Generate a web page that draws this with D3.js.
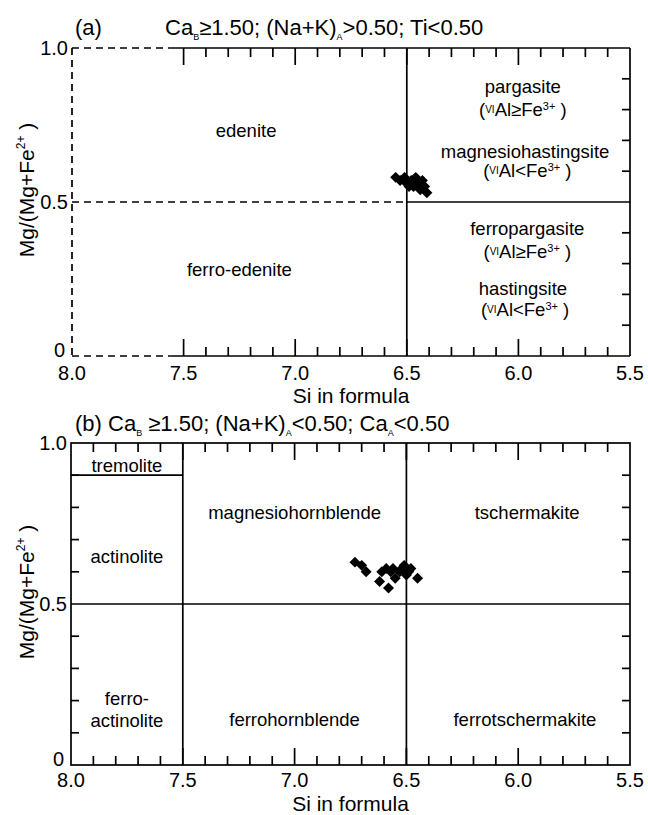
<!DOCTYPE html>
<html>
<head>
<meta charset="utf-8">
<script src="https://cdn.jsdelivr.net/npm/d3@7/dist/d3.min.js"></script>
<style>
  html, body { margin: 0; padding: 0; background: #fff; }
  svg { display: block; }
  text { font-family: "Liberation Sans", Arial, Helvetica, sans-serif; fill: #000; }
</style>
</head>
<body>
<svg id="chart" width="648" height="815"></svg>
<script>
// Amphibole classification diagrams: Si (apfu) vs Mg/(Mg+Fe2+)

// Panel (a) analyses
const siA = [6.55, 6.53, 6.51, 6.50, 6.49, 6.48, 6.47, 6.46, 6.45, 6.44, 6.43, 6.42, 6.41];
const mgA = [0.58, 0.57, 0.58, 0.56, 0.55, 0.57, 0.55, 0.58, 0.56, 0.54, 0.57, 0.55, 0.53];

// Panel (b) analyses
const siB = [6.73, 6.70, 6.68, 6.62, 6.61, 6.59, 6.58, 6.57, 6.56, 6.55, 6.53, 6.52, 6.51, 6.50, 6.49, 6.48, 6.45];
const mgB = [0.63, 0.62, 0.60, 0.57, 0.60, 0.61, 0.55, 0.60, 0.61, 0.58, 0.60, 0.61, 0.62, 0.59, 0.60, 0.61, 0.58];

// Axis tick labels
const xTickLabels = ["8.0", "7.5", "7.0", "6.5", "6.0", "5.5"];
const yTickLabels = ["0", "0.5", "1.0"];

// Field names, panel (a)
const fieldNamesA = ["edenite", "ferro-edenite", "pargasite", "magnesiohastingsite", "ferropargasite", "hastingsite"];
const fieldSiA    = [7.22, 7.25, 5.98, 5.97, 5.96, 5.98];
const fieldMgA    = [0.733, 0.28, 0.875, 0.665, 0.415, 0.218];
// Site-occupancy qualifiers under the pargasite/hastingsite names
const qualRelA    = ["≥", "<", "≥", "<"];
const qualSiA     = [5.98, 5.96, 5.96, 5.97];
const qualMgA     = [0.80, 0.603, 0.34, 0.152];

// Field names, panel (b)
const fieldNamesB = ["tremolite", "actinolite", "ferro-", "actinolite", "magnesiohornblende", "tschermakite", "ferrohornblende", "ferrotschermakite"];
const fieldSiB    = [7.75, 7.75, 7.75, 7.75, 7.0, 5.96, 7.0, 5.97];
const fieldMgB    = [0.93, 0.648, 0.208, 0.138, 0.785, 0.785, 0.14, 0.14];

const svg = d3.select("#chart");
const labelFont = 18.5;

function makeScales(p) {
  const x = d3.scaleLinear().domain([8.0, 5.5]).range([p.left, p.right]);
  const y = d3.scaleLinear().domain([0, 1]).range([p.bottom, p.top]);
  return { x, y };
}

function line(g, x1, y1, x2, y2, dashed) {
  g.append("line")
    .attr("x1", x1).attr("y1", y1).attr("x2", x2).attr("y2", y2)
    .attr("stroke", "#000").attr("stroke-width", 1.7)
    .attr("stroke-dasharray", dashed ? "7,5" : null);
}

// inward ticks along top and bottom borders, longer at every 0.5
function xTicks(g, s, from) {
  const vals = d3.range(Math.round(from * 10), 55, -1).map(v => v / 10);
  vals.forEach(v => {
    if (v === 8.0) return;
    const major = Math.abs(v * 2 - Math.round(v * 2)) < 1e-6;
    const len = major ? 17 : 9;
    const px = s.x(v);
    line(g, px, s.y(0), px, s.y(0) - len);
    line(g, px, s.y(1), px, s.y(1) + len);
  });
}

function yTicks(g, s, side) {
  d3.range(1, 10).forEach(i => {
    const v = i / 10;
    if (v === 0.5) return;
    const py = s.y(v);
    if (side === "right") line(g, s.x(5.5), py, s.x(5.5) - 8, py);
    else line(g, s.x(8.0), py, s.x(8.0) + 8, py);
  });
}

function axisLabels(g, s, p, dyTick, dyTitle) {
  g.selectAll(".xl").data(xTickLabels).enter().append("text")
    .attr("x", d => s.x(+d)).attr("y", p.bottom + dyTick)
    .attr("text-anchor", "middle").attr("font-size", 20).text(d => d);
  g.selectAll(".yl").data(yTickLabels).enter().append("text")
    .attr("x", d => p.left - (+d === 0 ? 7 : 4)).attr("y", d => s.y(+d) + (+d === 0 ? 1 : 7))
    .attr("text-anchor", "end").attr("font-size", 20).text(d => d);
  g.append("text").attr("x", (p.left + p.right) / 2).attr("y", p.bottom + dyTitle)
    .attr("text-anchor", "middle").attr("font-size", 21).text("Si in formula");
  const yt = g.append("text")
    .attr("transform", `translate(34,${(p.top + p.bottom) / 2 - 12}) rotate(-90)`)
    .attr("text-anchor", "middle").attr("font-size", 21);
  yt.append("tspan").text("Mg/(Mg+Fe");
  yt.append("tspan").attr("font-size", 12).attr("dy", -9).text("2+");
  yt.append("tspan").attr("dy", 9).text(" )");
}

function points(g, s, xs, ys) {
  g.selectAll(".pt").data(xs.map((d, i) => [d, ys[i]])).enter().append("path")
    .attr("d", d3.symbol().type(d3.symbolSquare).size(60))
    .attr("transform", d => `translate(${s.x(d[0])},${s.y(d[1])}) rotate(45)`)
    .attr("fill", "#000");
}

function label(g, s, si, mg, txt) {
  g.append("text").attr("x", s.x(si)).attr("y", s.y(mg) + 6.5)
    .attr("text-anchor", "middle").attr("font-size", labelFont).text(txt);
}

function qualifier(g, s, si, mg, rel) {
  const t = g.append("text").attr("x", s.x(si)).attr("y", s.y(mg) + 6.5)
    .attr("text-anchor", "middle").attr("font-size", labelFont);
  t.append("tspan").text("(");
  t.append("tspan").attr("font-size", 10).attr("dy", -3).text("VI");
  t.append("tspan").attr("dy", 3).text("Al" + rel + "Fe");
  t.append("tspan").attr("font-size", 11).attr("dy", -6).text("3+");
  t.append("tspan").attr("dy", 6).text(" )");
}

function title(g, x, y, parts) {
  const t = g.append("text").attr("x", x).attr("y", y).attr("font-size", 22);
  parts.forEach(p => {
    if (p[1] === "sub") t.append("tspan").attr("font-size", 9).attr("dy", 5).text(p[0]);
    else t.append("tspan").attr("dy", p[1] === "back" ? -5 : 0).text(p[0]);
  });
}

// ---------- Panel (a) ----------
const pA = { left: 72, right: 630, top: 48, bottom: 356 };
const sA = makeScales(pA);
const gA = svg.append("g");

// dashed left margin of the field diagram
line(gA, pA.left, pA.top, pA.left, pA.bottom, true);
line(gA, pA.left, pA.top, sA.x(7.56), pA.top, true);
line(gA, pA.left, pA.bottom, sA.x(7.56), pA.bottom, true);
line(gA, sA.x(7.56), pA.top, pA.right, pA.top);
line(gA, sA.x(7.56), pA.bottom, pA.right, pA.bottom);
line(gA, pA.right, pA.top, pA.right, pA.bottom);
// field boundaries
line(gA, sA.x(6.5), pA.top, sA.x(6.5), pA.bottom);
line(gA, pA.left, sA.y(0.5), sA.x(6.5), sA.y(0.5), true);
line(gA, sA.x(6.5), sA.y(0.5), pA.right, sA.y(0.5));
xTicks(gA, sA, 7.5);
yTicks(gA, sA, "right");
axisLabels(gA, sA, pA, 24, 47);
fieldNamesA.forEach((n, i) => label(gA, sA, fieldSiA[i], fieldMgA[i], n));
qualRelA.forEach((r, i) => qualifier(gA, sA, qualSiA[i], qualMgA[i], r));
points(gA, sA, siA, mgA);
title(gA, 75, 35, [["(a)", ""]]);
title(gA, 165, 35, [["Ca", ""], ["B", "sub"], ["≥1.50; (Na+K)", "back"], ["A", "sub"], [">0.50; Ti<0.50", "back"]]);

// ---------- Panel (b) ----------
const pB = { left: 71, right: 630, top: 443, bottom: 765 };
const sB = makeScales(pB);
const gB = svg.append("g");

gB.append("rect").attr("x", pB.left).attr("y", pB.top)
  .attr("width", pB.right - pB.left).attr("height", pB.bottom - pB.top)
  .attr("fill", "none").attr("stroke", "#000").attr("stroke-width", 1.7);
line(gB, sB.x(7.5), pB.top, sB.x(7.5), pB.bottom);
line(gB, sB.x(6.5), pB.top, sB.x(6.5), pB.bottom);
line(gB, pB.left, sB.y(0.5), pB.right, sB.y(0.5));
line(gB, pB.left, sB.y(0.9), sB.x(7.5), sB.y(0.9));
xTicks(gB, sB, 7.9);
yTicks(gB, sB, "left");
yTicks(gB, sB, "right");
axisLabels(gB, sB, pB, 22, 46);
fieldNamesB.forEach((n, i) => label(gB, sB, fieldSiB[i], fieldMgB[i], n));
points(gB, sB, siB, mgB);
title(gB, 75, 431, [["(b)  Ca", ""], ["B", "sub"], [" ≥1.50; (Na+K)", "back"], ["A", "sub"], ["<0.50; Ca", "back"], ["A", "sub"], ["<0.50", "back"]]);
</script>
</body>
</html>
